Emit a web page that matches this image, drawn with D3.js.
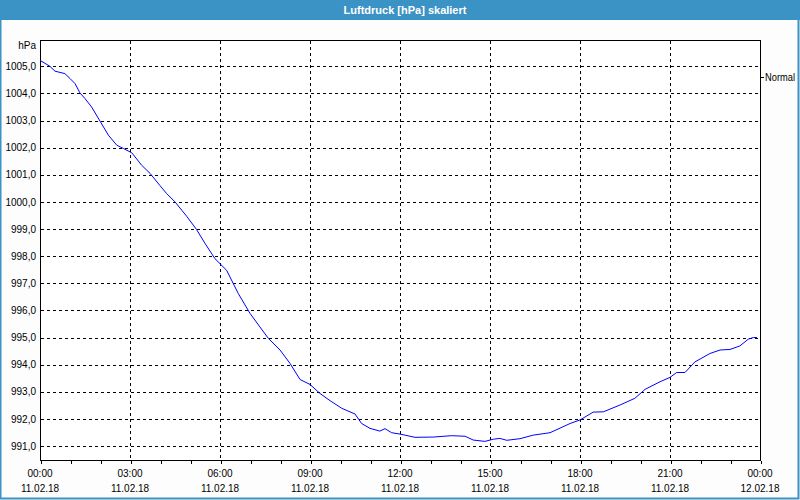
<!DOCTYPE html>
<html>
<head>
<meta charset="utf-8">
<script src="https://cdn.jsdelivr.net/npm/d3@7/dist/d3.min.js"></script>
<style>
  html, body { margin: 0; padding: 0; background: #fcfdfc; }
  svg { display: block; font-family: "Liberation Sans", Arial, sans-serif; }
</style>
</head>
<body>
<svg id="chart" width="800" height="500"></svg>
<script>
// ---- data ----
const chartTitle = "Luftdruck [hPa] skaliert";
const unitLabel = "hPa";
const seriesName = "Normal";
// hours after 11.02.18 00:00
const hours = [0.0, 0.33, 0.5, 0.83, 1.0, 1.17, 1.33, 1.5, 1.72, 2.0, 2.28, 2.56, 2.78, 3.06, 3.39, 3.67,
  4.0, 4.22, 4.5, 4.89, 5.22, 5.5, 5.83, 6.22, 6.61, 7.0, 7.33, 7.61, 8.0, 8.33, 8.67, 9.0, 9.33, 9.67,
  10.06, 10.5, 10.72, 11.0, 11.33, 11.5, 11.72, 12.0, 12.5, 13.11, 13.72, 14.17, 14.44, 14.83, 15.11,
  15.33, 15.56, 16.0, 16.44, 17.0, 17.67, 18.0, 18.44, 18.78, 19.33, 19.83, 20.17, 20.67, 21.0, 21.22,
  21.5, 21.83, 22.33, 22.67, 23.0, 23.33, 23.61, 23.78, 23.9];
const pressure = [1005.22, 1005.0, 1004.82, 1004.73, 1004.55, 1004.36, 1004.02, 1003.81, 1003.5, 1002.98,
  1002.46, 1002.09, 1001.97, 1001.81, 1001.35, 1001.05, 1000.6, 1000.31, 1000.0, 999.47, 998.98, 998.47,
  997.91, 997.48, 996.62, 995.89, 995.39, 994.97, 994.54, 994.05, 993.45, 993.27, 992.94, 992.67, 992.39,
  992.18, 991.83, 991.65, 991.55, 991.64, 991.49, 991.44, 991.32, 991.33, 991.38, 991.36, 991.22, 991.17,
  991.25, 991.28, 991.21, 991.27, 991.40, 991.49, 991.83, 991.96, 992.25, 992.26, 992.51, 992.76, 993.09,
  993.37, 993.53, 993.71, 993.71, 994.1, 994.41, 994.54, 994.56, 994.69, 994.94, 995.0, 995.0];
const yTicks = [991, 992, 993, 994, 995, 996, 997, 998, 999, 1000, 1001, 1002, 1003, 1004, 1005];
const xMinorTicks = d3.range(0, 25, 1);
const xLabelHours = [0, 3, 6, 9, 12, 15, 18, 21, 24];
const xTimeLabels = ["00:00", "03:00", "06:00", "09:00", "12:00", "15:00", "18:00", "21:00", "00:00"];
const xDateLabels = ["11.02.18", "11.02.18", "11.02.18", "11.02.18", "11.02.18", "11.02.18", "11.02.18", "11.02.18", "12.02.18"];

// ---- layout ----
const W = 800, H = 500;
const pLeft = 40, pRight = 760, pTop = 40, pBottom = 460;
const svg = d3.select("#chart");
const blue = "#3b92c5";

const x = d3.scaleLinear().domain([0, 24]).range([pLeft, pRight]);
const y = d3.scaleLinear().domain([991, 1005]).range([446, 66.3]);
const px = v => Math.round(v) + 0.5;

// background
svg.append("rect").attr("x", 0).attr("y", 0).attr("width", W).attr("height", H).attr("fill", "#fcfdfc");
// title bar
svg.append("rect").attr("x", 0).attr("y", 0).attr("width", W).attr("height", 20).attr("fill", blue);
svg.append("text").attr("x", 405).attr("y", 14).attr("text-anchor", "middle")
  .attr("fill", "#ffffff").attr("font-size", "11px").attr("font-weight", "bold").text(chartTitle);
// window border
svg.append("rect").attr("x", 0.5).attr("y", 0.5).attr("width", W - 2).attr("height", H - 2)
  .attr("fill", "none").attr("stroke", blue).attr("stroke-width", 2);

// plot area
svg.append("rect").attr("x", pLeft).attr("y", pTop).attr("width", pRight - pLeft).attr("height", pBottom - pTop)
  .attr("fill", "#ffffff");

// grid
const grid = svg.append("g").attr("stroke", "#000").attr("stroke-width", 1).attr("stroke-dasharray", "3,3")
  .attr("shape-rendering", "crispEdges");
grid.selectAll("line.h").data(yTicks).join("line").attr("class", "h")
  .attr("x1", pLeft + 1).attr("x2", pRight).attr("y1", d => px(y(d))).attr("y2", d => px(y(d)));
grid.selectAll("line.v").data(xLabelHours.filter(h => h > 0 && h < 24)).join("line").attr("class", "v")
  .attr("y1", pTop + 1).attr("y2", pBottom).attr("x1", d => px(x(d))).attr("x2", d => px(x(d)));

// frame
svg.append("rect").attr("x", pLeft + 0.5).attr("y", pTop + 0.5).attr("width", pRight - pLeft).attr("height", pBottom - pTop)
  .attr("fill", "none").attr("stroke", "#000").attr("shape-rendering", "crispEdges");

// y axis labels
const yAxis = d3.axisLeft(y).tickValues(yTicks).tickSize(0).tickPadding(4)
  .tickFormat(d => d.toFixed(1).replace(".", ","));
const gy = svg.append("g").attr("transform", `translate(${pLeft},0)`).call(yAxis);
gy.select(".domain").remove();
gy.selectAll("text").attr("font-size", "10px").attr("fill", "#000").attr("font-family", "Liberation Sans, Arial, sans-serif");

svg.append("text").attr("x", 36).attr("y", 48.5).attr("text-anchor", "end")
  .attr("font-size", "10px").attr("fill", "#000").text(unitLabel);

// x axis minor ticks
const xAxis = d3.axisBottom(x).tickValues(xMinorTicks).tickSize(3).tickFormat("");
const gx = svg.append("g").attr("transform", `translate(0.5,${pBottom + 0.5})`).call(xAxis);
gx.select(".domain").remove();
gx.selectAll("line").attr("stroke", "#000").attr("shape-rendering", "crispEdges");

// x labels
const lab = svg.append("g").attr("font-size", "10px").attr("fill", "#000").attr("text-anchor", "middle");
lab.selectAll("text.t").data(xLabelHours).join("text").attr("class", "t")
  .attr("x", d => x(d)).attr("y", 477).text((d, i) => xTimeLabels[i]);
lab.selectAll("text.d").data(xLabelHours).join("text").attr("class", "d")
  .attr("x", d => x(d)).attr("y", 492).text((d, i) => xDateLabels[i]);

// series line
const pts = hours.map((h, i) => [h, pressure[i]]);
const line = d3.line().x(d => x(d[0])).y(d => y(d[1]));
svg.append("path").datum(pts).attr("d", line).attr("fill", "none").attr("stroke", "#0000ff").attr("stroke-width", 1);

// legend
svg.append("line").attr("x1", pRight).attr("x2", pRight + 4).attr("y1", 77.5).attr("y2", 77.5)
  .attr("stroke", "#000").attr("shape-rendering", "crispEdges");
svg.append("text").attr("x", 765).attr("y", 81).attr("font-size", "10px").attr("fill", "#000")
  .attr("textLength", 30).attr("lengthAdjust", "spacingAndGlyphs").text(seriesName);
</script>
</body>
</html>
